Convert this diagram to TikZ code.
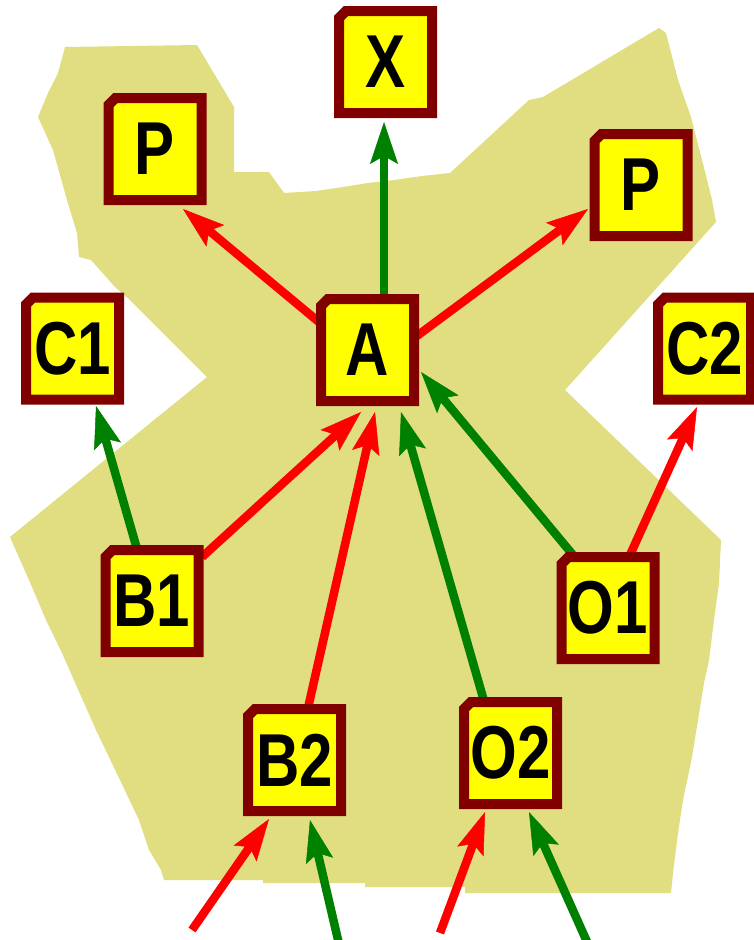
\documentclass[tikz,border=0pt]{standalone}
\usepackage{fontspec}
\setmainfont{Liberation Sans}
\usetikzlibrary{arrows.meta}
\pgfdeclarelayer{bg}\pgfdeclarelayer{arrows}\pgfdeclarelayer{frames}
\pgfsetlayers{bg,arrows,frames,main}
\definecolor{khaki}{RGB}{224,222,128}
\definecolor{framered}{RGB}{128,0,0}
\definecolor{boxyellow}{RGB}{255,255,0}
\definecolor{arrred}{RGB}{255,0,0}
\definecolor{arrgreen}{RGB}{0,128,0}
\newcommand\boxtxt[1]{\raisebox{-3pt}{\scalebox{0.8}[1]{#1}}}
\begin{document}
\begin{tikzpicture}[x=1pt,y=-1pt,
  lbl/.style={minimum width=93pt,minimum height=102pt,inner sep=0pt,outer sep=0pt,
    font=\fontsize{75}{75}\selectfont\bfseries},
  framebox/.style={draw=framered,fill=boxyellow,line width=10pt,line join=miter},
  link/.style={line width=8.5pt,-{Stealth[length=42pt,width=28pt,inset=8pt,line width=0.5pt]}},
  rl/.style={link,draw=arrred},
  gl/.style={link,draw=arrgreen}]
\useasboundingbox (0,0) rectangle (754,940);
\begin{pgfonlayer}{bg}
\fill[white] (0,0) rectangle (754,940);
\fill[khaki] (65,47) -- (197,45) -- (234,107) -- (234,172) -- (269,172) -- (284,193)
  -- (316,191) -- (343,187) -- (368,183) -- (394,180) -- (422,176) -- (450,173)
  -- (529,100) -- (543,97) -- (659,28) -- (666,33) -- (678,80) -- (691,117)
  -- (702,160) -- (712,200) -- (716,222) -- (565,390) -- (721,540) -- (719,583)
  -- (714,620) -- (709,660) -- (704,683) -- (692,757) -- (683,800) -- (678,833)
  -- (673,873) -- (671,893) -- (465,893) -- (465,887) -- (365,887) -- (365,883)
  -- (263,883) -- (263,880) -- (164,880) -- (161,870) -- (149,850) -- (139,820)
  -- (120,780) -- (96,730) -- (77,687) -- (62,653) -- (46,620) -- (29,580)
  -- (10,537) -- (207,377) -- (130,300) -- (115,287) -- (91,260) -- (79,257)
  -- (77,233) -- (67,200) -- (53,150) -- (38,117) -- (48,93) -- (58,73) -- cycle;
\end{pgfonlayer}
% boxes
\node[lbl] (X)  at (385.5,62)  {\boxtxt{X}};
\node[lbl] (PL) at (155,149)   {\boxtxt{P}};
\node[lbl] (PR) at (641,185)   {\boxtxt{P}};
\node[lbl] (C1) at (72.5,348.5) {\boxtxt{C1}};
\node[lbl] (A)  at (367.5,350) {\boxtxt{A}};
\node[lbl] (C2) at (704.5,348.5) {\boxtxt{C2}};
\node[lbl] (B1) at (152,601)   {\boxtxt{B1}};
\node[lbl] (O1) at (608,608)   {\boxtxt{O1}};
\node[lbl] (B2) at (294.5,760) {\boxtxt{B2}};
\node[lbl] (O2) at (510.5,753) {\boxtxt{O2}};
\begin{pgfonlayer}{frames}
\foreach \n in {X,PL,PR,C1,A,C2,B1,O1,B2,O2}
  \draw[framebox] ([xshift=7pt]\n.north west) -- (\n.north east) -- (\n.south east)
    -- (\n.south west) -- ([yshift=-7pt]\n.north west) -- cycle;
\end{pgfonlayer}
\coordinate (inB2r) at (192,930);
\coordinate (inB2g) at (339,944);
\coordinate (inO2r) at (440,933);
\coordinate (inO2g) at (588,944);
\begin{pgfonlayer}{arrows}
\draw[gl] ([shift={(16.5,-50)}]A.center) -- ([shift={(-1.5,60)}]X.center);
\draw[rl] ([shift={(-45,-25)}]A.center) -- ([shift={(28,60)}]PL.center);
\draw[rl] ([shift={(48,-13)}]A.center) -- ([shift={(-53,24)}]PR.center);
\draw[gl] ([shift={(-15,-52)}]B1.center) -- ([shift={(23.5,57.5)}]C1.center);
\draw[rl] ([shift={(50,-44)}]B1.center) -- ([shift={(-6.5,62)}]A.center);
\draw[rl] ([shift={(13.5,-52)}]B2.center) -- ([shift={(7.5,62)}]A.center);
\draw[gl] ([shift={(-26.5,-52)}]O2.center) -- ([shift={(33.5,62)}]A.center);
\draw[gl] ([shift={(-35,-53)}]O1.center) -- ([shift={(53.5,22)}]A.center);
\draw[rl] ([shift={(22,-53)}]O1.center) -- ([shift={(-7.5,58.5)}]C2.center);
\draw[rl] (inB2r) -- ([shift={(-25.5,59)}]B2.center);
\draw[gl] (inB2g) -- ([shift={(15.5,60)}]B2.center);
\draw[rl] (inO2r) -- ([shift={(-25.5,59)}]O2.center);
\draw[gl] (inO2g) -- ([shift={(18.5,59)}]O2.center);
\end{pgfonlayer}
\end{tikzpicture}
\end{document}
